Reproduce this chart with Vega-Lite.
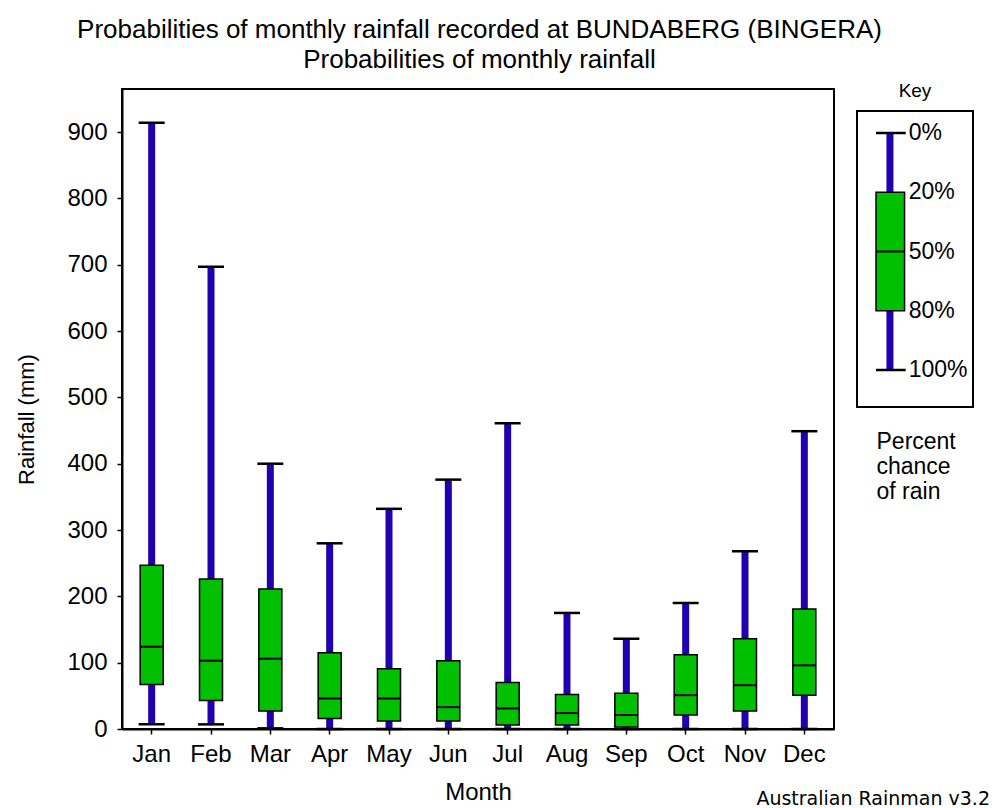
{
  "$schema": "https://vega.github.io/schema/vega-lite/v6.json",
  "background": "white",
  "padding": {"left": 14, "top": 17, "right": 0, "bottom": 0},
  "config": {
    "font": "Liberation Sans",
    "view": {"stroke": "black", "strokeWidth": 2},
    "axis": {"grid": false, "domainColor": "black", "domainWidth": 2, "tickColor": "black", "tickWidth": 1.5, "labelColor": "black", "titleColor": "black", "labelFont": "Liberation Sans", "titleFont": "Liberation Sans", "titleFontWeight": "normal"},
    "title": {"font": "Liberation Sans", "fontWeight": "normal", "color": "black"}
  },
  "datasets": {
    "rain": [
      {"month": "Jan", "max": 914, "p20": 247, "median": 124, "p80": 67, "min": 7},
      {"month": "Feb", "max": 697, "p20": 226, "median": 103, "p80": 43, "min": 7},
      {"month": "Mar", "max": 400, "p20": 211, "median": 106, "p80": 27, "min": 1},
      {"month": "Apr", "max": 280, "p20": 115, "median": 46, "p80": 16, "min": 0},
      {"month": "May", "max": 332, "p20": 91, "median": 46, "p80": 12, "min": 0},
      {"month": "Jun", "max": 376, "p20": 103, "median": 33, "p80": 12, "min": 0},
      {"month": "Jul", "max": 461, "p20": 70, "median": 31, "p80": 6, "min": 0},
      {"month": "Aug", "max": 175, "p20": 52, "median": 24, "p80": 6, "min": 0},
      {"month": "Sep", "max": 136, "p20": 54, "median": 21, "p80": 3, "min": 0},
      {"month": "Oct", "max": 190, "p20": 112, "median": 51, "p80": 21, "min": 0},
      {"month": "Nov", "max": 268, "p20": 136, "median": 66, "p80": 27, "min": 0},
      {"month": "Dec", "max": 449, "p20": 181, "median": 96, "p80": 51, "min": 0}
    ],
    "keytitle": [{"label": "Key"}],
    "keybox": [{"top": "0%", "upper": "20%", "mid": "50%", "lower": "80%", "bottom": "100%"}],
    "keylabels": [{"pct": "0%"}, {"pct": "20%"}, {"pct": "50%"}, {"pct": "80%"}, {"pct": "100%"}]
  },
  "title": {"text": "Australian Rainman v3.2", "orient": "bottom", "anchor": "end", "font": "DejaVu Sans", "fontSize": 19, "offset": -15, "dx": 16},
  "vconcat": [
    {
      "title": {"text": ["Probabilities of monthly rainfall recorded at BUNDABERG (BINGERA)", "Probabilities of monthly rainfall"], "anchor": "middle", "fontSize": 26, "lineHeight": 30, "offset": 9, "dx": -15},
      "spacing": 21,
      "hconcat": [
        {
          "width": 712,
          "height": 640,
          "data": {"name": "rain"},
          "encoding": {
            "x": {"field": "month", "type": "ordinal", "sort": ["Jan", "Feb", "Mar", "Apr", "May", "Jun", "Jul", "Aug", "Sep", "Oct", "Nov", "Dec"], "scale": {"paddingInner": 0, "paddingOuter": 0}, "title": "Month",
              "axis": {"labelAngle": 0, "labelFontSize": 24, "tickSize": 5, "labelPadding": 8, "titleFontSize": 24, "titlePadding": 14}}
          },
          "layer": [
            {"mark": {"type": "rule", "color": "#2000b0", "strokeWidth": 7},
             "encoding": {"y": {"field": "min", "type": "quantitative", "title": "Rainfall (mm)", "scale": {"domain": [0, 965], "nice": false},
               "axis": {"values": [0, 100, 200, 300, 400, 500, 600, 700, 800, 900], "labelFontSize": 24, "tickSize": 5, "labelPadding": 10, "titleFontSize": 22, "titlePadding": 28, "titleY": 330}},
               "y2": {"field": "max"}}},
            {"mark": {"type": "bar", "color": "#00c000", "stroke": "black", "strokeWidth": 1.5, "width": 23},
             "encoding": {"y": {"field": "p80", "type": "quantitative", "title": "Rainfall (mm)"}, "y2": {"field": "p20"}}},
            {"mark": {"type": "tick", "color": "black", "size": 26, "thickness": 2.5, "opacity": 1},
             "encoding": {"y": {"field": "max", "type": "quantitative", "title": "Rainfall (mm)"}}},
            {"mark": {"type": "tick", "color": "black", "size": 26, "thickness": 2.5, "opacity": 1},
             "encoding": {"y": {"field": "min", "type": "quantitative", "title": "Rainfall (mm)"}}},
            {"mark": {"type": "tick", "color": "black", "size": 23, "thickness": 2, "opacity": 1},
             "encoding": {"y": {"field": "median", "type": "quantitative", "title": "Rainfall (mm)"}}}
          ]
        },
        {
          "spacing": 9,
          "vconcat": [
            {
              "width": 116,
              "height": 2,
              "view": {"stroke": null},
              "data": {"name": "keytitle"},
              "mark": {"type": "text", "fontSize": 19, "font": "Liberation Sans", "color": "black", "baseline": "middle", "align": "center", "dy": 1},
              "encoding": {"text": {"field": "label"}}
            },
            {
              "width": 116,
              "height": 296,
              "encoding": {
                "y": {"type": "ordinal", "scale": {"type": "point", "padding": 0, "domain": ["0%", "20%", "50%", "80%", "100%"], "range": [22, 259]}, "axis": null},
                "x": {"type": "quantitative", "scale": {"domain": [0, 1]},
                  "axis": {"orient": "bottom", "domain": false, "ticks": false, "labels": false, "title": ["Percent", "chance", "of rain"], "titleFontSize": 23, "titleLineHeight": 25, "titleAnchor": "start", "titleAlign": "left", "titleX": 19, "titlePadding": 23}}
              },
              "layer": [
                {"data": {"name": "keybox"}, "mark": {"type": "rule", "color": "#2000b0", "strokeWidth": 7},
                 "encoding": {"x": {"datum": 0.284}, "y": {"field": "top"}, "y2": {"field": "bottom"}}},
                {"data": {"name": "keybox"}, "mark": {"type": "rect", "fill": "#00c000", "stroke": "black", "strokeWidth": 1.5},
                 "encoding": {"x": {"datum": 0.164}, "x2": {"datum": 0.41}, "y": {"field": "upper"}, "y2": {"field": "lower"}}},
                {"data": {"name": "keybox"}, "mark": {"type": "rule", "color": "black", "strokeWidth": 2.5},
                 "encoding": {"x": {"datum": 0.164}, "x2": {"datum": 0.42}, "y": {"field": "top"}}},
                {"data": {"name": "keybox"}, "mark": {"type": "rule", "color": "black", "strokeWidth": 2.5},
                 "encoding": {"x": {"datum": 0.164}, "x2": {"datum": 0.42}, "y": {"field": "bottom"}}},
                {"data": {"name": "keybox"}, "mark": {"type": "rule", "color": "black", "strokeWidth": 2},
                 "encoding": {"x": {"datum": 0.164}, "x2": {"datum": 0.41}, "y": {"field": "mid"}}},
                {"data": {"name": "keylabels"}, "mark": {"type": "text", "align": "left", "baseline": "middle", "fontSize": 23, "dx": 3, "font": "Liberation Sans", "color": "black"},
                 "encoding": {"x": {"datum": 0.42}, "y": {"field": "pct"}, "text": {"field": "pct"}}}
              ]
            }
          ]
        }
      ]
    }
  ]
}
